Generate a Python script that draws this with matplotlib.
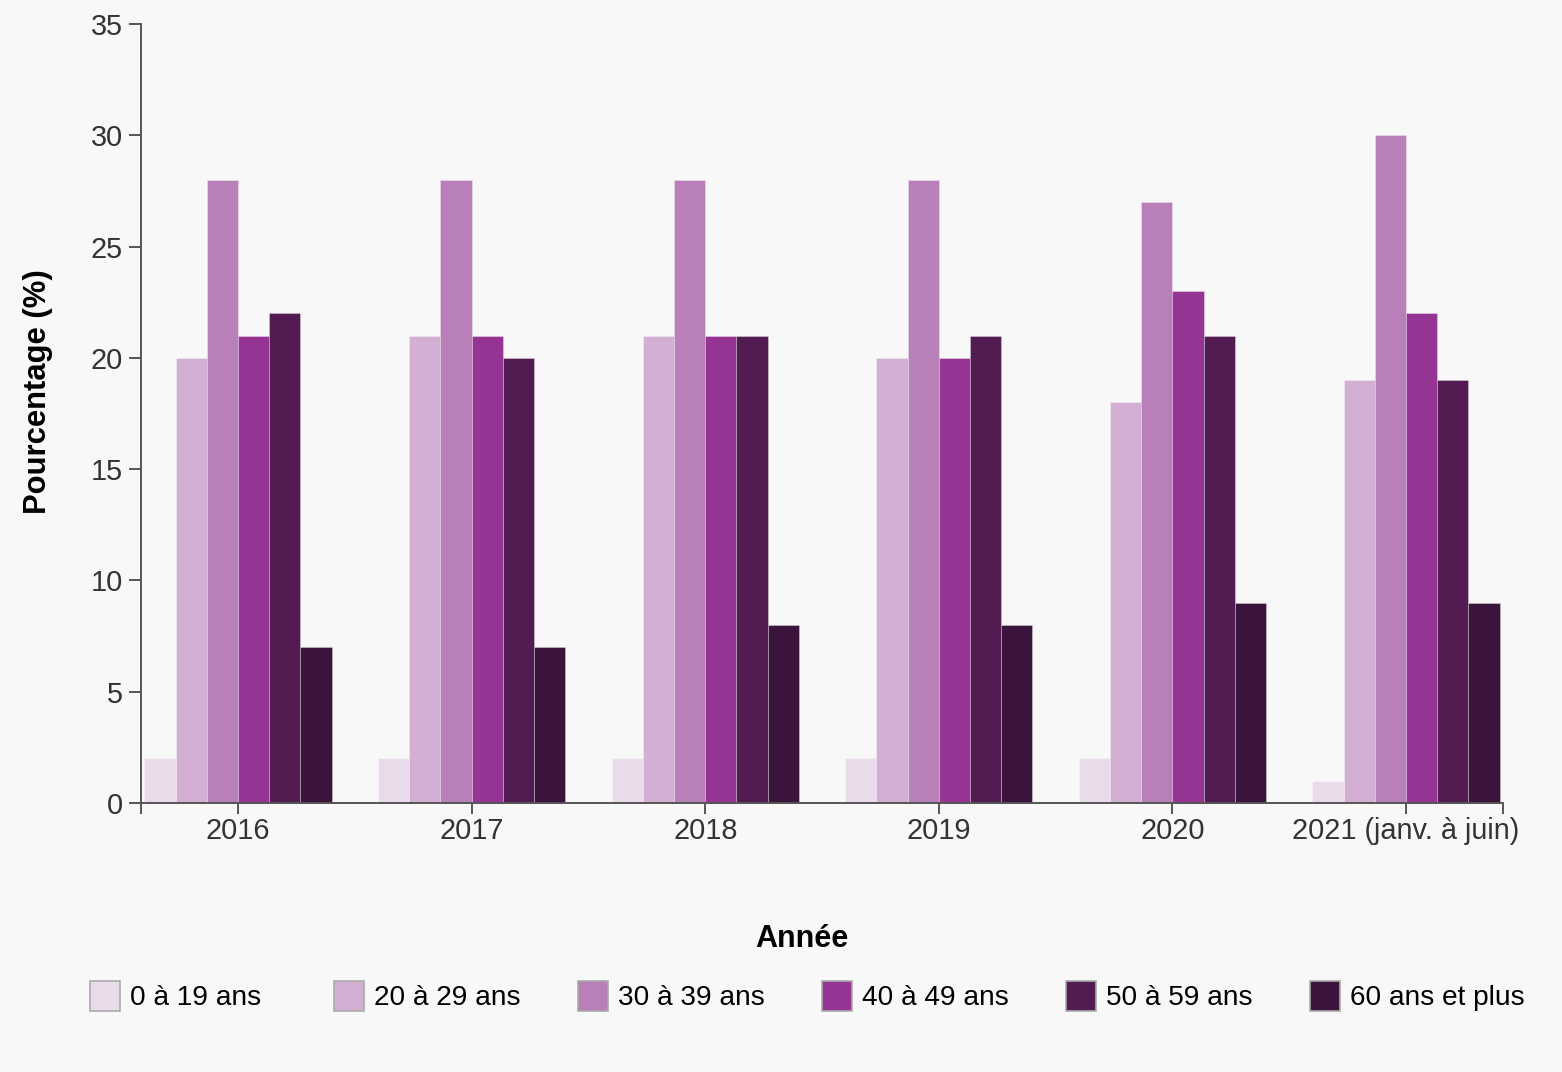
import matplotlib
matplotlib.use("Agg")
import matplotlib.pyplot as plt
from matplotlib.patches import Rectangle
import numpy as np

plt.rcParams['font.family'] = ['Liberation Sans', 'DejaVu Sans']

years = ["2016", "2017", "2018", "2019", "2020", "2021 (janv. à juin)"]
groups = ["0 à 19 ans", "20 à 29 ans", "30 à 39 ans", "40 à 49 ans", "50 à 59 ans", "60 ans et plus"]
v_0_19 = [2, 2, 2, 2, 2, 1]
v_20_29 = [20, 21, 21, 20, 18, 19]
v_30_39 = [28, 28, 28, 28, 27, 30]
v_40_49 = [21, 21, 21, 20, 23, 22]
v_50_59 = [22, 20, 21, 21, 21, 19]
v_60p = [7, 7, 8, 8, 9, 9]
series = [v_0_19, v_20_29, v_30_39, v_40_49, v_50_59, v_60p]
colors = ["#e9dbea", "#d3afd3", "#b87fb8", "#963494", "#521b52", "#3a143a"]
yticks = [0, 5, 10, 15, 20, 25, 30, 35]

W, H = 1562, 1072
bg = "#f8f8f8"
fig = plt.figure(figsize=(W / 100, H / 100), dpi=100, facecolor=bg)
ax = fig.add_axes([141 / W, 1 - 803 / H, (1503 - 141) / W, (803 - 24) / H])
ax.set_facecolor(bg)

x = np.arange(len(years))
bw = 0.1336
for j, (vals, c) in enumerate(zip(series, colors)):
    ax.bar(x + (j - 2.5) * bw, vals, width=bw, color=c, edgecolor=(1, 1, 1, 0.35),
           linewidth=0.6, zorder=2)

ax.set_xlim(-0.415, 5.415)
ax.set_ylim(0, 35)
ax.set_yticks(yticks)
ax.set_yticklabels([str(t) for t in yticks])
ax.set_xticks(x)
ax.set_xticklabels(years)
ax.set_xticks([-0.415, 5.415], minor=True)

for s in ["top", "right"]:
    ax.spines[s].set_visible(False)
for s in ["left", "bottom"]:
    ax.spines[s].set_color("#555555")
    ax.spines[s].set_linewidth(1.4)

ax.tick_params(axis="both", which="both", color="#555555", width=1.4, labelcolor="#333333",
               labelsize=20.8)
ax.tick_params(axis="y", length=9, pad=4)
ax.tick_params(axis="x", which="both", length=8, pad=1.8)

fig.text(38 / W, 1 - 392 / H, "Pourcentage (%)", rotation=90, ha="center", va="center",
         fontsize=22.3, fontweight="bold", color="black")
fig.text(802 / W, 1 - 939 / H, "Année", ha="center", va="center",
         fontsize=22, fontweight="bold", color="black")

for i, (g, c) in enumerate(zip(groups, colors)):
    lx = 90 + i * 244
    fig.patches.append(Rectangle((lx / W, 1 - 1011 / H), 30 / W, 30 / H, transform=fig.transFigure,
                                 facecolor=c, edgecolor="#aaaaaa", linewidth=1.2))
    fig.text((lx + 40) / W, 1 - 998 / H, g, ha="left", va="center", fontsize=20.2, color="black")

fig.savefig("out.png", dpi=100, facecolor=bg)
